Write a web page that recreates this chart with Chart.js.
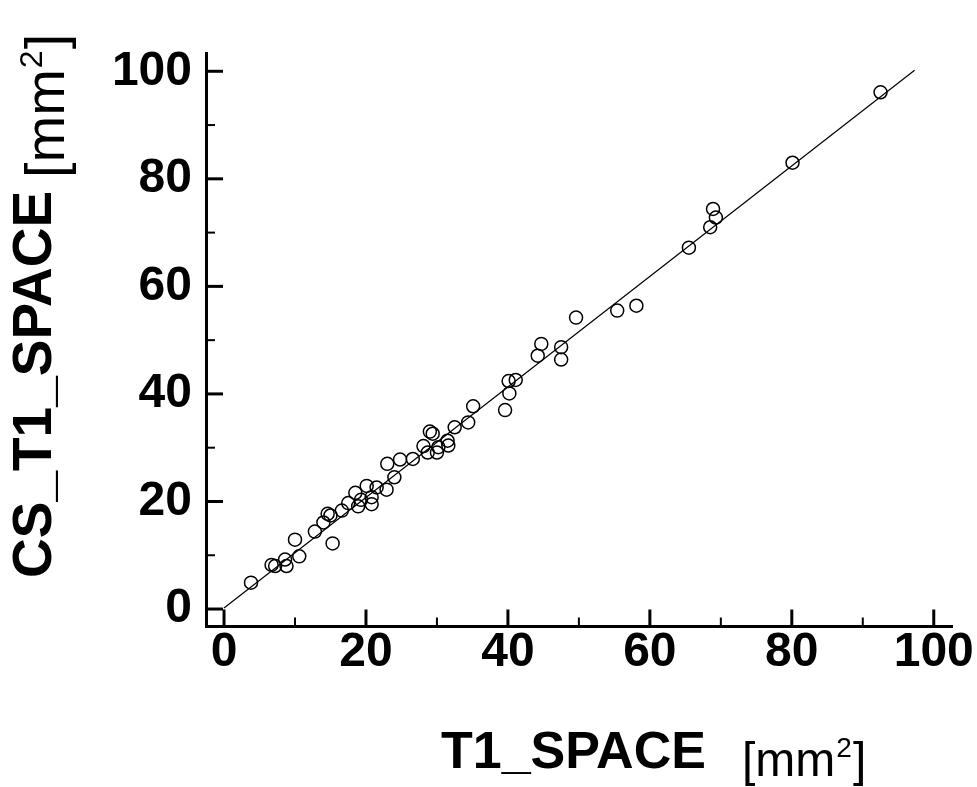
<!DOCTYPE html>
<html>
<head>
<meta charset="utf-8">
<script src="https://cdn.jsdelivr.net/npm/chart.js@4.4.1/dist/chart.umd.min.js"></script>
<style>
  html, body { margin: 0; padding: 0; background: #fff; }
</style>
</head>
<body>
<canvas id="myChart" width="977" height="787"></canvas>
<script>
// measured values, T1_SPACE vs CS_T1_SPACE (mm2)
var t1Space = [3.8, 6.7, 7.2, 8.6, 8.8, 10.0, 10.6, 12.8, 14.0, 14.6, 15.0, 15.3, 16.6, 17.5, 18.5,
  18.9, 19.3, 20.1, 20.8, 20.8, 21.5, 22.9, 23.0, 24.0, 24.8, 26.6, 28.1, 28.7, 29.0, 29.4,
  30.0, 30.2, 31.5, 31.6, 32.5, 34.4, 35.1, 39.6, 40.2, 40.1, 41.1, 44.2, 44.7, 47.5, 47.5,
  49.6, 55.4, 58.1, 65.5, 68.5, 69.3, 68.9, 80.1, 92.5];
var csT1Space = [4.9, 8.2, 8.0, 9.2, 8.0, 12.9, 9.8, 14.4, 16.1, 17.7, 17.4, 12.2, 18.3, 19.7, 21.6,
  19.1, 20.3, 22.9, 20.8, 19.5, 22.6, 22.2, 27.0, 24.5, 27.8, 27.9, 30.3, 29.1, 33.0, 32.6,
  29.1, 30.1, 31.3, 30.4, 33.8, 34.7, 37.7, 37.0, 40.1, 42.4, 42.6, 47.1, 49.3, 48.7, 46.4,
  54.2, 55.5, 56.4, 67.2, 71.0, 72.8, 74.4, 83.0, 96.1];

// regression line end points
var fitX = [0, 97.3];
var fitY = [0.2, 100.2];

var tickLabels = [0, 20, 40, 60, 80, 100];
var minorTicks = [10, 30, 50, 70, 90];

var FONT = "'Liberation Sans', Arial, Helvetica, sans-serif";

// inward tick marks, long at the labels, short in between
var axisTicks = {
  id: 'axisTicks',
  afterDraw: function (chart) {
    var c = chart.ctx;
    var xs = chart.scales.x, ys = chart.scales.y;
    var a = chart.chartArea;
    c.save();
    c.strokeStyle = '#000';
    function tick(x1, y1, x2, y2, w) {
      c.lineWidth = w;
      c.beginPath();
      c.moveTo(x1, y1);
      c.lineTo(x2, y2);
      c.stroke();
    }
    tickLabels.forEach(function (v) {
      var px = xs.getPixelForValue(v);
      tick(px, a.bottom, px, a.bottom - 17, 3);
      var py = ys.getPixelForValue(v);
      tick(a.left, py, a.left + 17, py, 3);
    });
    minorTicks.forEach(function (v) {
      var px = xs.getPixelForValue(v);
      tick(px, a.bottom, px, a.bottom - 9, 2);
      var py = ys.getPixelForValue(v);
      tick(a.left, py, a.left + 9, py, 2);
    });
    c.restore();
  }
};

// axis titles: bold name + regular unit with superscript
var axisTitles = {
  id: 'axisTitles',
  afterDraw: function (chart) {
    var c = chart.ctx;
    c.save();
    c.fillStyle = '#000';
    c.textAlign = 'left';
    c.textBaseline = 'alphabetic';

    function unit(x, y, size) {
      c.font = size + 'px ' + FONT;
      c.fillText('[mm', x, y);
      x += c.measureText('[mm').width + 1;
      c.font = Math.round(size * 0.58) + 'px ' + FONT;
      c.fillText('2', x, y - size * 0.4);
      x += c.measureText('2').width + 1;
      c.font = size + 'px ' + FONT;
      c.fillText(']', x, y);
    }

    // x title
    c.font = 'bold 52px ' + FONT;
    c.fillText('T1_SPACE', 441, 768);
    unit(742, 776, 48);

    // y title
    c.save();
    c.translate(51, 578);
    c.rotate(-Math.PI / 2);
    c.font = 'bold 55px ' + FONT;
    c.fillText('CS_T1_SPACE', 0, 0);
    c.restore();
    c.save();
    c.translate(64, 178);
    c.rotate(-Math.PI / 2);
    unit(0, 0, 56);
    c.restore();

    c.restore();
  }
};

var ctx = document.getElementById('myChart').getContext('2d');
var myChart = new Chart(ctx, {
  type: 'scatter',
  data: {
    datasets: [{
      label: 'CS_T1_SPACE',
      data: t1Space.map(function (x, i) { return { x: x, y: csT1Space[i] }; }),
      pointRadius: 6.5,
      pointBorderWidth: 1.5,
      borderColor: '#000',
      backgroundColor: 'rgba(255,255,255,0)'
    }, {
      type: 'line',
      label: 'fit',
      data: fitX.map(function (x, i) { return { x: x, y: fitY[i] }; }),
      borderColor: '#000',
      borderWidth: 1.2,
      pointRadius: 0,
      fill: false
    }]
  },
  options: {
    responsive: false,
    animation: false,
    layout: { padding: { left: 0, top: 53, right: 25, bottom: 0 } },
    plugins: {
      legend: { display: false },
      tooltip: { enabled: false }
    },
    scales: {
      x: {
        type: 'linear',
        min: -2.54,
        max: 102.57,
        grid: { display: true, drawOnChartArea: false, drawTicks: false },
        border: { display: true, color: '#000', width: 3 },
        ticks: {
          color: '#000',
          font: { family: FONT, size: 48, weight: 'bold' },
          padding: -3,
          maxRotation: 0,
          autoSkip: false
        },
        afterBuildTicks: function (scale) {
          scale.ticks = tickLabels.map(function (v) { return { value: v }; });
        },
        afterFit: function (scale) {
          scale.height = 160.5;
          scale.paddingLeft = 0;
          scale.paddingRight = 0;
        }
      },
      y: {
        type: 'linear',
        min: -3.25,
        max: 103.4,
        grid: { display: true, drawOnChartArea: false, drawTicks: false },
        border: { display: true, color: '#000', width: 3 },
        ticks: {
          color: '#000',
          font: { family: FONT, size: 48, weight: 'bold' },
          padding: 14,
          autoSkip: false
        },
        afterBuildTicks: function (scale) {
          scale.ticks = tickLabels.map(function (v) { return { value: v }; });
        },
        afterFit: function (scale) {
          scale.width = 206;
          scale.paddingTop = 0;
          scale.paddingBottom = 0;
        }
      }
    }
  },
  plugins: [axisTicks, axisTitles]
});
</script>
</body>
</html>
